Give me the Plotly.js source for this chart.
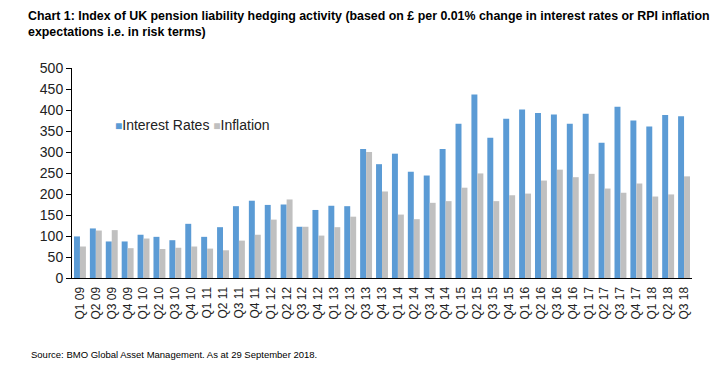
<!DOCTYPE html>
<html><head><meta charset="utf-8">
<script src="https://cdn.plot.ly/plotly-3.0.1.min.js"></script>
<style>body{margin:0;background:#fff}#c{width:728px;height:369px}</style>
</head><body><div id="c"></div>
<script>
var categories = ["Q1 09","Q2 09","Q3 09","Q4 09","Q1 10","Q2 10","Q3 10","Q4 10","Q1 11","Q2 11","Q3 11","Q4 11","Q1 12","Q2 12","Q3 12","Q4 12","Q1 13","Q2 13","Q3 13","Q4 13","Q1 14","Q2 14","Q3 14","Q4 14","Q1 15","Q2 15","Q3 15","Q4 15","Q1 16","Q2 16","Q3 16","Q4 16","Q1 17","Q2 17","Q3 17","Q4 17","Q1 18","Q2 18","Q3 18"];
var interestRates = [99,118,87,87,103,98,90,129,98,121,171,184,174,175,122,162,172,171,307,271,296,253,244,307,367,437,334,379,401,393,389,367,391,322,408,375,361,388,385];
var inflation = [75,113,114,71,94,69,72,75,70,66,89,103,139,187,122,101,121,146,300,206,151,140,179,183,215,249,183,197,201,232,258,240,248,213,203,225,194,199,242];
var yTicks = [0,50,100,150,200,250,300,350,400,450,500];
var seriesNames = ["Interest Rates","Inflation"];
var seriesColors = ["#5B9BD5","#C0C0C0"];

var font = "Liberation Sans, Arial, sans-serif";
var data = [
  {type:"bar", name:seriesNames[0], x:categories, y:interestRates, marker:{color:seriesColors[0]}},
  {type:"bar", name:seriesNames[1], x:categories, y:inflation, marker:{color:seriesColors[1]}}
];
var legendText = seriesNames.map(function(n,i){
  return "<span style='color:"+seriesColors[i]+";font-size:12px'>■</span>"+n;
}).join(" ");
var layout = {
  width:728, height:369,
  margin:{l:72, r:36, t:68, b:91},
  paper_bgcolor:"#fff", plot_bgcolor:"#fff",
  barmode:"group", bargap:0.25, bargroupgap:0,
  font:{family:font, color:"#000"},
  showlegend:false,
  xaxis:{type:"category", tickangle:-90, tickfont:{size:12, color:"#222"}, showline:true, linecolor:"#000", linewidth:1, ticks:"outside", ticklen:3, tickcolor:"rgba(0,0,0,0)", showgrid:false, zeroline:false, automargin:false},
  yaxis:{range:[0,500], tickvals:yTicks, ticks:"outside", ticklen:5, tickcolor:"#000", tickfont:{size:14, color:"#222"}, showline:true, linecolor:"#000", linewidth:1, showgrid:false, zeroline:false, automargin:false},
  annotations:[
    {xref:"paper", yref:"paper", x:-0.075, y:1.29, xanchor:"left", yanchor:"top", align:"left", showarrow:false,
     text:"<b>Chart 1: Index of UK pension liability hedging activity (based on £ per 0.01% change in interest rates or RPI inflation<br>expectations i.e. in risk terms)</b>",
     font:{size:12.4, color:"#000", family:font}},
    {xref:"paper", yref:"paper", x:0.066, y:0.729, xanchor:"left", yanchor:"middle", align:"left", showarrow:false,
     text:legendText, font:{size:14, color:"#222", family:font}},
    {xref:"paper", yref:"paper", x:-0.07, y:-0.33, xanchor:"left", yanchor:"top", align:"left", showarrow:false,
     text:"Source: BMO Global Asset Management. As at 29 September 2018.",
     font:{size:9.5, color:"#000", family:font}}
  ]
};
Plotly.newPlot("c", data, layout, {displayModeBar:false, staticPlot:true});
</script></body></html>
